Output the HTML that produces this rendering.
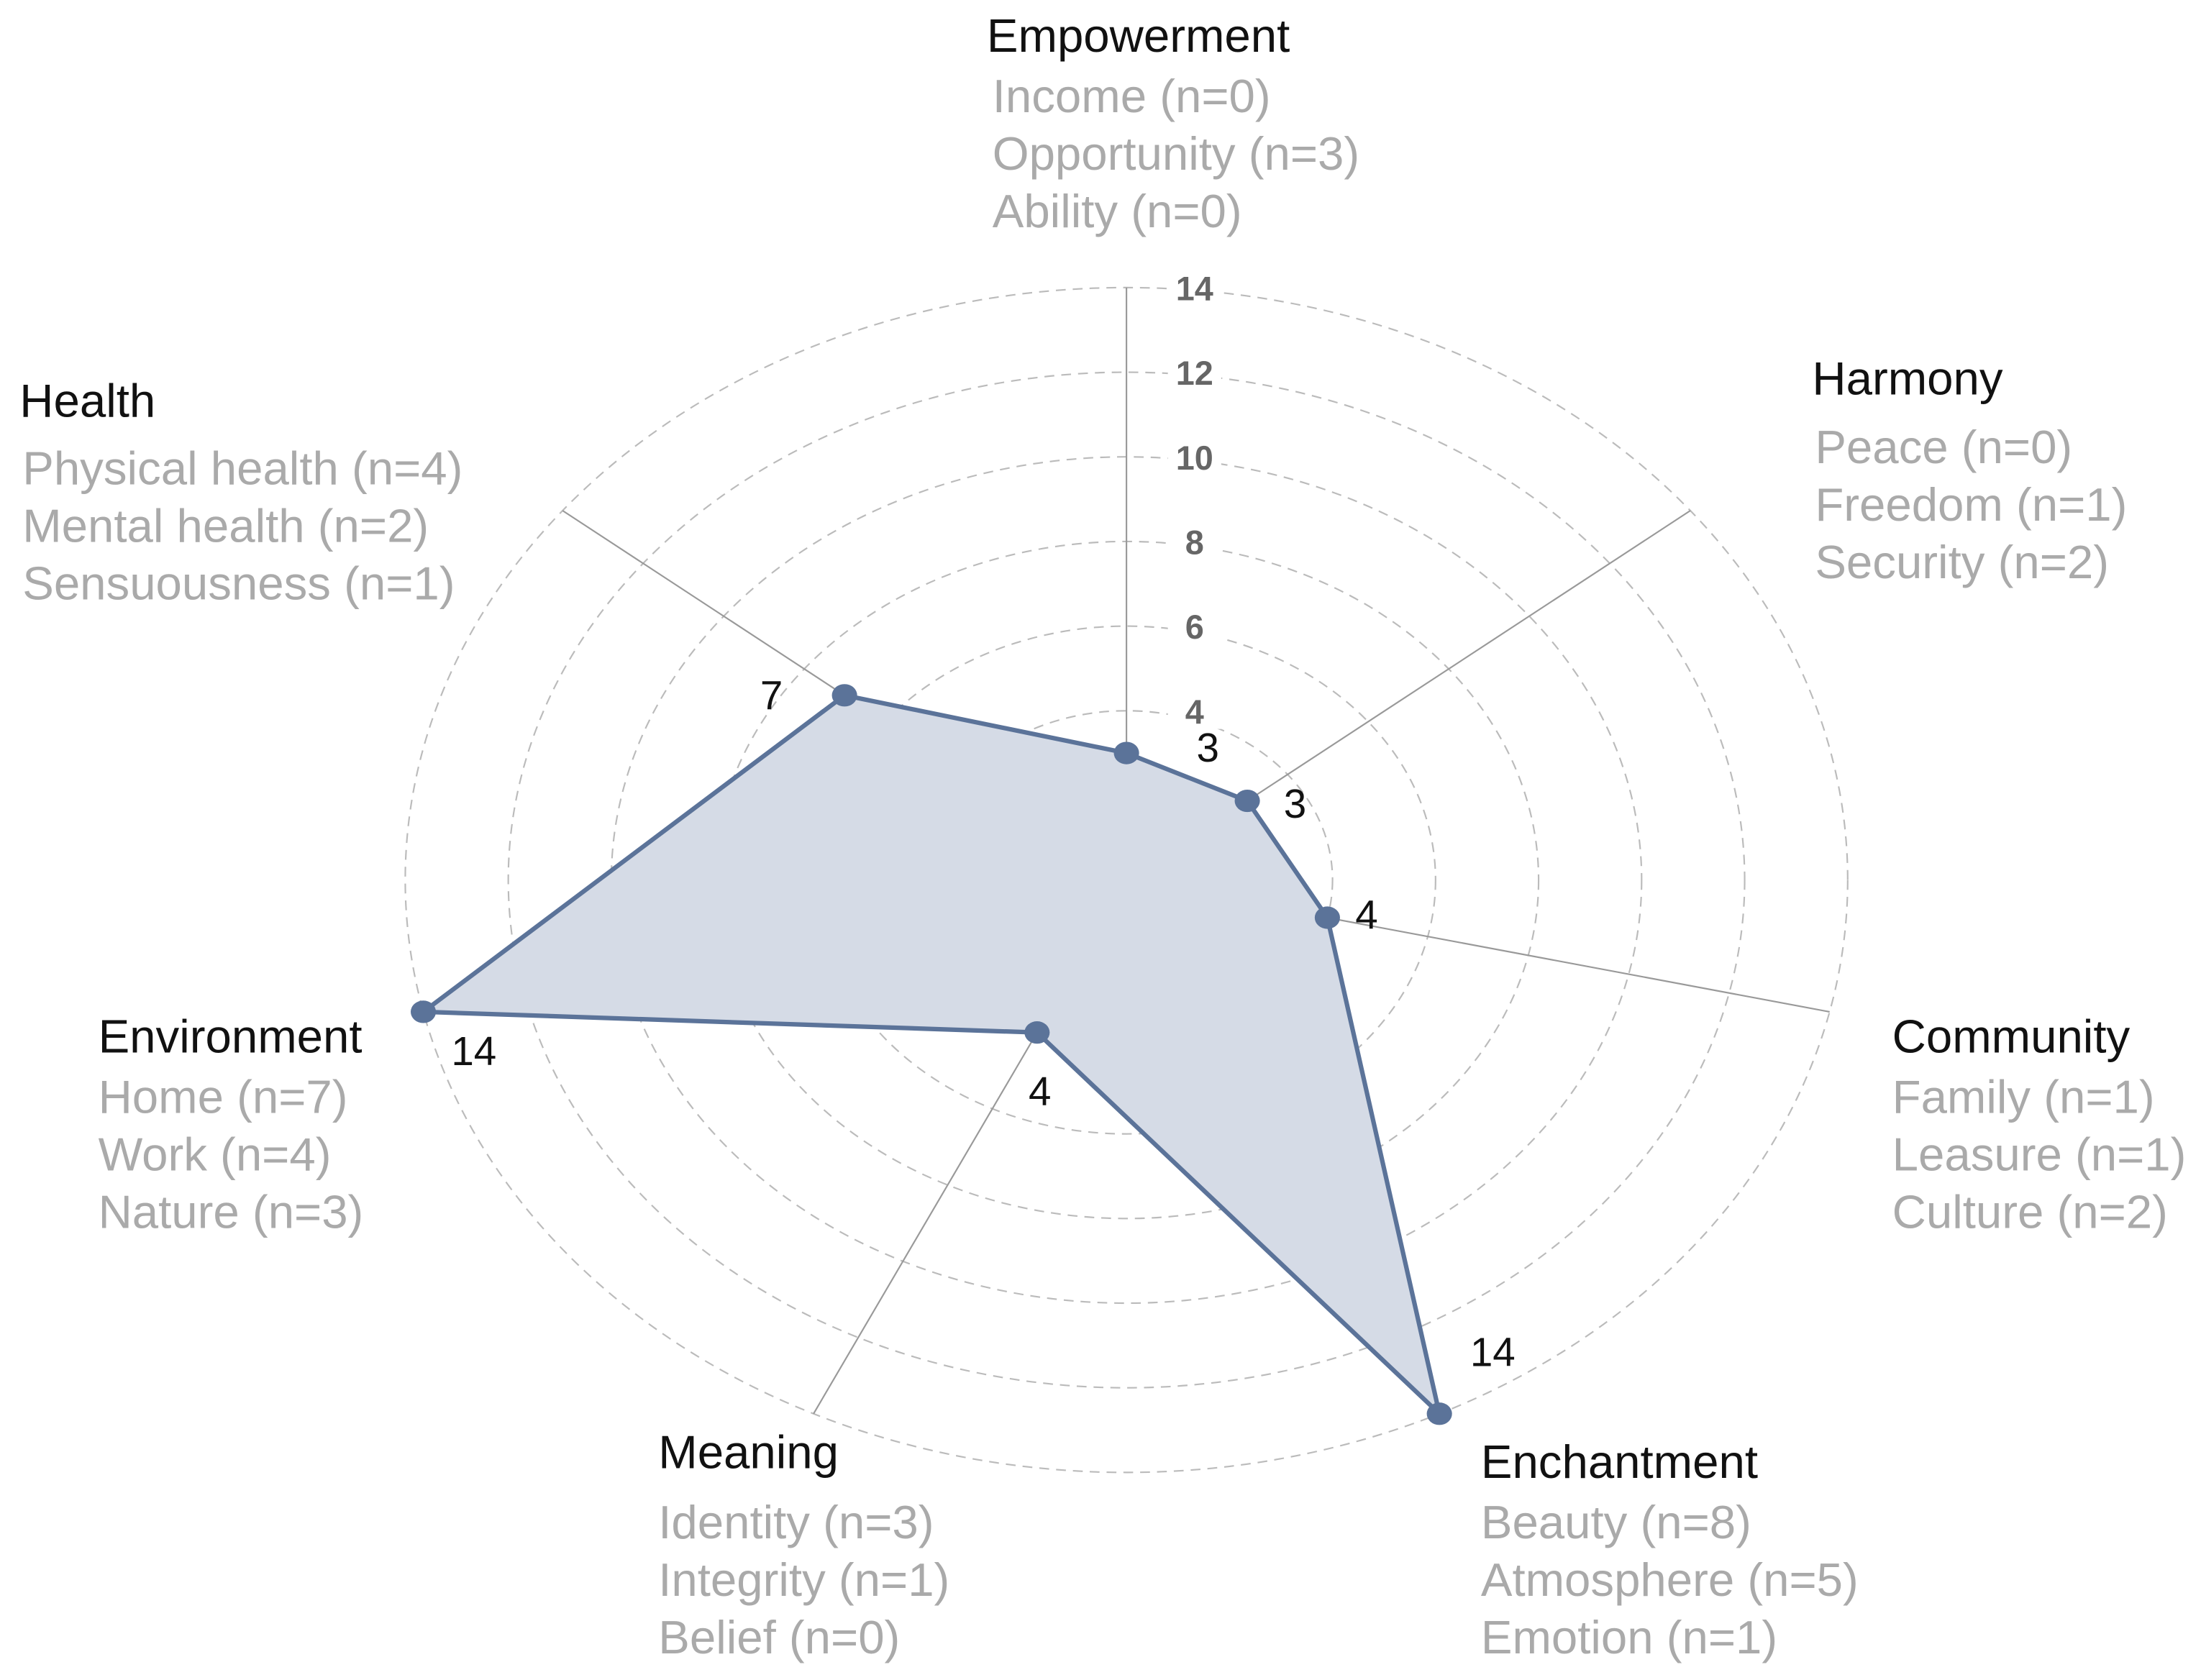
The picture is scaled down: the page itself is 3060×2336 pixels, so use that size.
<!DOCTYPE html>
<html><head><meta charset="utf-8"><style>
html,body{margin:0;padding:0;background:#fff}
svg{display:block}
text{font-family:"Liberation Sans",Arial,sans-serif}
</style></head><body>
<svg id="chart" width="3060" height="2336" viewBox="0 0 1568 1197" preserveAspectRatio="none" xmlns="http://www.w3.org/2000/svg">
<g id="rings"></g><g id="axes"></g><g id="ticks"></g><g id="series"></g><g id="labels"></g>
</svg>
<script>
const categories = ["Empowerment","Harmony","Community","Enchantment","Meaning","Environment","Health"];
const values = [3,3,4,14,4,14,7];
const tickValues = [2,4,6,8,10,12,14];
const subItems = [
 ["Income (n=0)","Opportunity (n=3)","Ability (n=0)"],
 ["Peace (n=0)","Freedom (n=1)","Security (n=2)"],
 ["Family (n=1)","Leasure (n=1)","Culture (n=2)"],
 ["Beauty (n=8)","Atmosphere (n=5)","Emotion (n=1)"],
 ["Identity (n=3)","Integrity (n=1)","Belief (n=0)"],
 ["Home (n=7)","Work (n=4)","Nature (n=3)"],
 ["Physical health (n=4)","Mental health (n=2)","Sensuousness (n=1)"]
];
const NS="http://www.w3.org/2000/svg";
const cx=802.5, cy=627, ux=36.7, uy=30.15, maxV=14;
function ang(i){return i*2*Math.PI/categories.length;}
function px(i,v){return cx+Math.sin(ang(i))*v*ux;}
function py(i,v){return cy-Math.cos(ang(i))*v*uy;}
function mk(tag,attrs,parent){const e=document.createElementNS(NS,tag);for(const k in attrs)e.setAttribute(k,attrs[k]);parent.appendChild(e);return e;}
const rings=document.getElementById('rings'),axes=document.getElementById('axes'),ticks=document.getElementById('ticks'),series=document.getElementById('series'),labels=document.getElementById('labels');
tickValues.forEach(t=>{
 const r=mk('ellipse',{cx:cx,cy:cy,rx:t*ux,ry:t*uy,fill:'none',stroke:'#bbb','stroke-width':1.1,'stroke-dasharray':'7,5'},rings);
 
 
});
categories.forEach((c,i)=>{
 const l=mk('line',{x1:cx,y1:cy,x2:px(i,maxV),y2:py(i,maxV),stroke:'#999','stroke-width':1.1},axes);
 
 
});
tickValues.forEach(t=>{
 const y=cy-t*uy;
 mk('rect',{x:832,y:y-13,width:38,height:26,fill:'#fff'},ticks);
 const tx=mk('text',{x:851,y:y+9,'text-anchor':'middle','font-size':24,'font-weight':'bold',fill:'#666'},ticks);
 tx.textContent=t;
 
 
});
const pts=values.map((v,i)=>px(i,v)+','+py(i,v)).join(' ');
const poly=mk('polygon',{points:pts,fill:'#d5dbe6',stroke:'#5b7399','stroke-width':3.2,'stroke-linejoin':'round'},series);


const valOff=[[58,-4],[34,2],[28,-2],[38,-44],[2,42],[36,28],[-52,0]];
values.forEach((v,i)=>{
 const d=mk('ellipse',{cx:px(i,v),cy:py(i,v),rx:9,ry:8,fill:'#5b7399'},series);
 
 
 const t=mk('text',{x:px(i,v)+valOff[i][0],y:py(i,v)+valOff[i][1]+10,'text-anchor':'middle','font-size':29,fill:'#111'},series);
 t.textContent=v;
 
 
});
const labPos=[[703,37],[1291,281],[1348,750],[1055,1053],[469,1046],[70,750],[14,297]];
const subStart=[[707,80],[1293,330],[1348,793],[1055,1096],[469,1096],[70,793],[16,345]];
categories.forEach((c,i)=>{
 const t=mk('text',{x:labPos[i][0],y:labPos[i][1],'font-size':33.5,fill:'#111'},labels);
 t.textContent=c;
 
 
 subItems[i].forEach((s,j)=>{
  const st=mk('text',{x:subStart[i][0],y:subStart[i][1]+j*41,'font-size':33.5,fill:'#aaaaaa'},labels);
  st.textContent=s;
  
  
 });
});
</script>
</body></html>
